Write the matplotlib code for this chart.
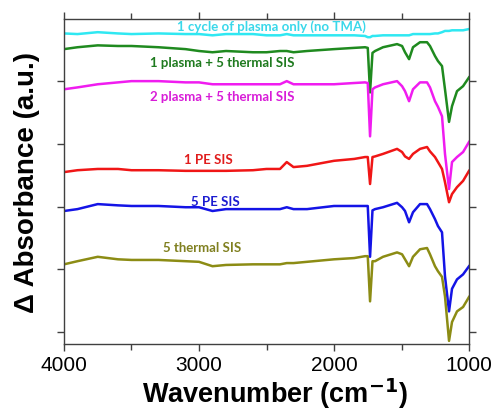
import matplotlib
matplotlib.use("Agg")
import matplotlib.pyplot as plt
from matplotlib.ticker import MultipleLocator

# wavenumber grid (cm-1) shared by all spectra
wavenumber = [4000, 3900, 3750, 3600, 3500, 3300, 3100, 3000, 2900, 2800,
              2600, 2500, 2400, 2350, 2300, 2200, 2000, 1850, 1770, 1750,
              1733, 1715, 1696, 1637, 1533, 1496, 1474, 1444, 1415, 1363,
              1311, 1289, 1252, 1230, 1200, 1178, 1148, 1126, 1089, 1044, 1000]

# offset absorbance traces (a.u.)
plasma_only = [4.76, 4.75, 4.78, 4.76, 4.75, 4.76, 4.75, 4.75, 4.73, 4.75,
               4.75, 4.73, 4.73, 4.75, 4.73, 4.73, 4.73, 4.73, 4.72, 4.70,
               4.70, 4.72, 4.72, 4.73, 4.73, 4.73, 4.73, 4.73, 4.75, 4.75,
               4.75, 4.75, 4.76, 4.76, 4.78, 4.80, 4.80, 4.81, 4.81, 4.81, 4.83]
p1_t5 = [4.51, 4.54, 4.57, 4.56, 4.56, 4.54, 4.51, 4.48, 4.46, 4.48,
         4.46, 4.46, 4.48, 4.48, 4.46, 4.48, 4.51, 4.53, 4.54, 4.53,
         3.82, 4.45, 4.48, 4.54, 4.59, 4.56, 4.46, 4.35, 4.54, 4.62,
         4.62, 4.56, 4.40, 4.32, 4.24, 3.87, 3.35, 3.60, 3.84, 3.92, 4.06]
p2_t5 = [3.87, 3.90, 3.95, 3.98, 4.00, 4.00, 3.98, 3.98, 3.95, 3.95,
         3.95, 3.95, 3.95, 4.00, 3.95, 3.95, 3.95, 3.97, 3.98, 3.97,
         3.12, 3.87, 3.90, 3.95, 4.00, 3.92, 3.84, 3.68, 3.87, 3.98,
         3.98, 3.90, 3.68, 3.59, 3.44, 2.84, 2.28, 2.71, 2.79, 2.87, 3.03]
pe1 = [2.55, 2.58, 2.60, 2.60, 2.58, 2.58, 2.57, 2.57, 2.57, 2.57,
       2.58, 2.60, 2.60, 2.71, 2.63, 2.65, 2.73, 2.76, 2.79, 2.79,
       2.36, 2.79, 2.80, 2.84, 2.92, 2.87, 2.80, 2.76, 2.84, 2.92,
       2.95, 2.88, 2.79, 2.71, 2.60, 2.39, 2.07, 2.20, 2.31, 2.41, 2.57]
pe5 = [1.93, 1.96, 2.04, 2.02, 2.01, 2.01, 1.99, 1.99, 1.93, 1.96,
       1.96, 1.96, 1.96, 1.99, 1.96, 1.96, 2.01, 2.01, 2.01, 2.01,
       1.20, 1.94, 1.96, 1.99, 2.06, 1.99, 1.93, 1.75, 1.91, 2.04,
       2.04, 1.96, 1.80, 1.69, 1.59, 0.89, 0.33, 0.69, 0.84, 0.92, 1.05]
thermal5 = [1.08, 1.13, 1.20, 1.16, 1.15, 1.15, 1.13, 1.12, 1.05, 1.07,
            1.08, 1.08, 1.08, 1.10, 1.10, 1.12, 1.16, 1.18, 1.21, 1.21,
            0.49, 1.13, 1.13, 1.20, 1.27, 1.24, 1.16, 1.05, 1.20, 1.32,
            1.34, 1.24, 1.05, 0.97, 0.88, 0.57, -0.14, 0.16, 0.33, 0.40, 0.56]

labels = ["1 cycle of plasma only (no TMA)", "1 plasma + 5 thermal SIS",
          "2 plasma + 5 thermal SIS", "1 PE SIS", "5 PE SIS", "5 thermal SIS"]
series = [plasma_only, p1_t5, p2_t5, pe1, pe5, thermal5]
colors = ["#2fe8f2", "#1f8a1f", "#f01cf0", "#f01616", "#1414e6", "#8c8c14"]
text_colors = ["#3ad8ea", "#1f7a1f", "#d81cd8", "#e01c1c", "#1c1cd0", "#808020"]
label_pos = [(2460, 4.88), (2830, 4.30), (2830, 3.76), (2930, 2.76),
             (2880, 2.09), (2980, 1.35)]

fig = plt.figure(figsize=(4.96, 4.10), dpi=100)
ax = fig.add_axes([0.129, 0.1585, 0.8166, 0.7927])

for y, c in zip(series, colors):
    ax.plot(wavenumber, y, color=c, linewidth=1.8)

for lab, (x, y), c in zip(labels, label_pos, text_colors):
    ax.text(x, y, lab, color=c, fontsize=9.5, fontweight="bold",
            family="Lato", ha="center", va="center")

ax.set_xlim(4000, 1000)
ax.set_ylim(-0.19, 4.99)
ax.xaxis.set_major_locator(MultipleLocator(1000))
ax.xaxis.set_minor_locator(MultipleLocator(500))
ax.set_yticks([0, 1, 2, 3, 4])
ax.set_yticklabels([])
ax.tick_params(axis="both", which="both", direction="out",
               top=True, right=True, color="#404040")
ax.tick_params(which="major", length=5, width=1)
ax.tick_params(which="minor", length=4, width=1)
ax.tick_params(axis="x", labelsize=15, pad=3)
for lbl in ax.get_xticklabels():
    lbl.set_family("Liberation Sans")
for s in ax.spines.values():
    s.set_color("#404040")
    s.set_linewidth(1)

ax.set_xlabel("Wavenumber (cm$^{\\mathbf{-1}}$)", fontsize=19.5, fontweight="bold",
              family="Liberation Sans")
ax.xaxis.set_label_coords(0.52, -0.097)
ax.set_ylabel("\u0394 Absorbance (a.u.)", fontsize=20, fontweight="bold",
              family="Liberation Sans", labelpad=9)

fig.savefig("out.png", dpi=100)
